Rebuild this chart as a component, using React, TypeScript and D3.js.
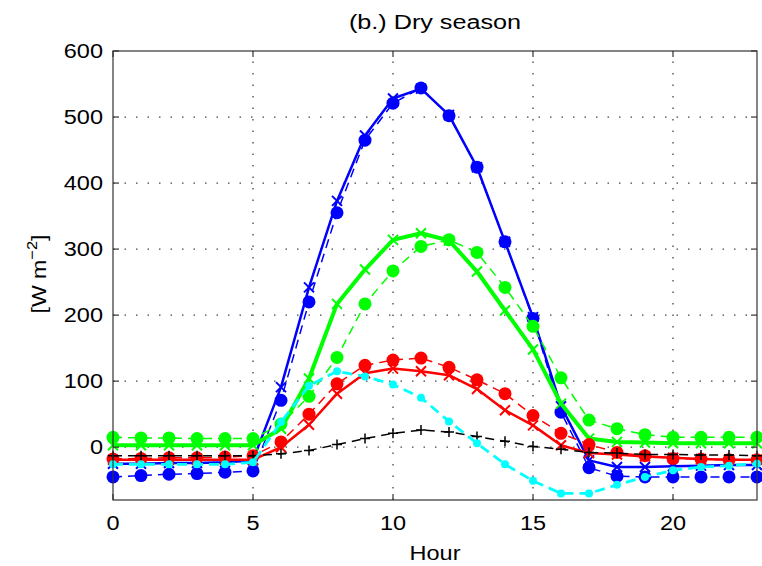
import React from 'react';
import * as d3 from 'd3';

// hours 0..23
const hours = d3.range(0, 24);

// blue: circles on dashed line, crosses on solid line
const blueObs = [-45, -43, -41, -40, -38, -36, 71, 220, 355, 465, 521, 544, 502, 424, 311, 195, 53, -31, -44, -45, -45, -45, -45, -45];
const blueMod = [-25, -25, -24, -24, -23, -20, 91, 242, 373, 472, 528, 543, 503, 424, 311, 197, 62, -20, -30, -30, -29, -28, -27, -27];
// green
const greenObs = [15, 14, 14, 13, 13, 13, 35, 77, 136, 217, 267, 304, 314, 295, 242, 183, 105, 41, 28, 19, 15, 15, 15, 15];
const greenMod = [3, 3, 3, 3, 3, 3, 28, 104, 217, 269, 314, 324, 313, 266, 207, 148, 66, 13, 8, 7, 6, 6, 6, 6];
// red
const redObs = [-18, -17, -16, -16, -15, -13, 8, 50, 96, 124, 132, 135, 121, 102, 81, 48, 21, 4, -8, -13, -17, -18, -19, -19];
const redMod = [-19, -19, -19, -19, -19, -19, 0, 34, 81, 112, 119, 115, 109, 88, 56, 33, 3, -9, -11, -14, -16, -18, -19, -19];
// black plus, dashed
const blackMod = [-13, -13, -13, -13, -13, -13, -10, -5, 4, 13, 21, 26, 23, 16, 9, 1, -3, -8, -9, -11, -11, -12, -12, -13];
// cyan dots, dashed
const cyanMod = [-26, -26, -26, -26, -26, -23, 38, 93, 115, 107, 95, 75, 39, 6, -26, -51, -70, -70, -57, -45, -35, -30, -28, -25];

const xTicks = [0, 5, 10, 15, 20];
const yTicks = [0, 100, 200, 300, 400, 500, 600];

const W = 762;
const H = 566;
const left = 113, right = 757, top = 51, bottom = 500;
const font = '"Liberation Sans", Arial, Helvetica, sans-serif';

const series = [
  { data: blueObs, color: '#0000ff', width: 1.5, dash: '9 6', marker: 'o', r: 6.5 },
  { data: blueMod, color: '#0000ff', width: 2.5, dash: null, marker: 'x', r: 5 },
  { data: greenObs, color: '#00ff00', width: 1.5, dash: '9 6', marker: 'o', r: 6.5 },
  { data: greenMod, color: '#00ff00', width: 4, dash: null, marker: 'x', r: 5 },
  { data: redObs, color: '#ff0000', width: 1.5, dash: '9 6', marker: 'o', r: 6.5 },
  { data: redMod, color: '#ff0000', width: 2.5, dash: null, marker: 'x', r: 5 },
  { data: blackMod, color: '#000000', width: 1.5, dash: '9 6', marker: '+', r: 5 },
  { data: cyanMod, color: '#00ffff', width: 2.8, dash: '10 6', marker: 'o', r: 4 },
];

export default function App() {
  const x = d3.scaleLinear().domain([0, 23]).range([left, right]);
  const y = d3.scaleLinear().domain([-80, 600]).range([bottom, top]);
  const line = d3.line<number>().x((d, i) => x(hours[i])).y(d => y(d));

  const marker = (s, v, i) => {
    const cx = x(hours[i]);
    const cy = y(v);
    const r = s.r;
    if (s.marker === 'o') return <circle key={i} cx={cx} cy={cy} r={r} fill={s.color} />;
    if (s.marker === 'x')
      return (
        <path key={i} d={`M${cx - r},${cy - r}L${cx + r},${cy + r}M${cx - r},${cy + r}L${cx + r},${cy - r}`}
          stroke={s.color} strokeWidth={2} />
      );
    return (
      <path key={i} d={`M${cx - r},${cy}L${cx + r},${cy}M${cx},${cy - r}L${cx},${cy + r}`}
        stroke={s.color} strokeWidth={1.5} />
    );
  };

  return (
    <svg width={W} height={H} style={{ position: 'absolute', left: 0, top: 0, background: '#fff' }}
      fontFamily={font}>
      <rect x={0} y={0} width={W} height={H} fill="#fff" />
      {/* grid */}
      <g stroke="#444" strokeWidth={1.3} strokeDasharray="1.5 10">
        {xTicks.filter(t => t > 0).map(t => (
          <line key={'gx' + t} x1={x(t)} x2={x(t)} y1={bottom} y2={top} />
        ))}
        {yTicks.filter(t => t < 600).map(t => (
          <line key={'gy' + t} x1={left} x2={right} y1={y(t)} y2={y(t)} />
        ))}
      </g>
      {/* series */}
      {series.map((s, k) => (
        <g key={k}>
          <path d={line(s.data) || ''} fill="none" stroke={s.color} strokeWidth={s.width}
            strokeDasharray={s.dash || undefined} strokeLinejoin="round" />
          {s.data.map((v, i) => marker(s, v, i))}
        </g>
      ))}
      {/* frame and ticks */}
      <rect x={left} y={top} width={right - left} height={bottom - top} fill="none" stroke="#333" strokeWidth={1.2} />
      <g stroke="#333" strokeWidth={1.2}>
        {xTicks.map(t => (
          <g key={'tx' + t}>
            <line x1={x(t)} x2={x(t)} y1={bottom} y2={bottom - 6} />
            <line x1={x(t)} x2={x(t)} y1={top} y2={top + 6} />
          </g>
        ))}
        {yTicks.map(t => (
          <g key={'ty' + t}>
            <line x1={left} x2={left + 6} y1={y(t)} y2={y(t)} />
            <line x1={right} x2={right - 6} y1={y(t)} y2={y(t)} />
          </g>
        ))}
      </g>
      {/* tick labels */}
      <g fontSize={21} fill="#000">
        {xTicks.map(t => (
          <text key={'lx' + t} transform={`translate(${x(t)},${530}) scale(1.12,1)`} textAnchor="middle">{t}</text>
        ))}
        {yTicks.map(t => (
          <text key={'ly' + t} transform={`translate(${left - 10},${y(t) + 7}) scale(1.12,1)`} textAnchor="end">{t}</text>
        ))}
      </g>
      <text transform={`translate(${(left + right) / 2},${560}) scale(1.12,1)`} textAnchor="middle" fontSize={21}>Hour</text>
      <text transform={`translate(${(left + right) / 2},${29}) scale(1.2,1)`} textAnchor="middle" fontSize={21}>(b.) Dry season</text>
      <text transform={`translate(46,274) rotate(-90) scale(1.1,1)`} textAnchor="middle" fontSize={21}>
        [W m<tspan dy={-9} fontSize={15}>−2</tspan><tspan dy={9}>]</tspan>
      </text>
    </svg>
  );
}
